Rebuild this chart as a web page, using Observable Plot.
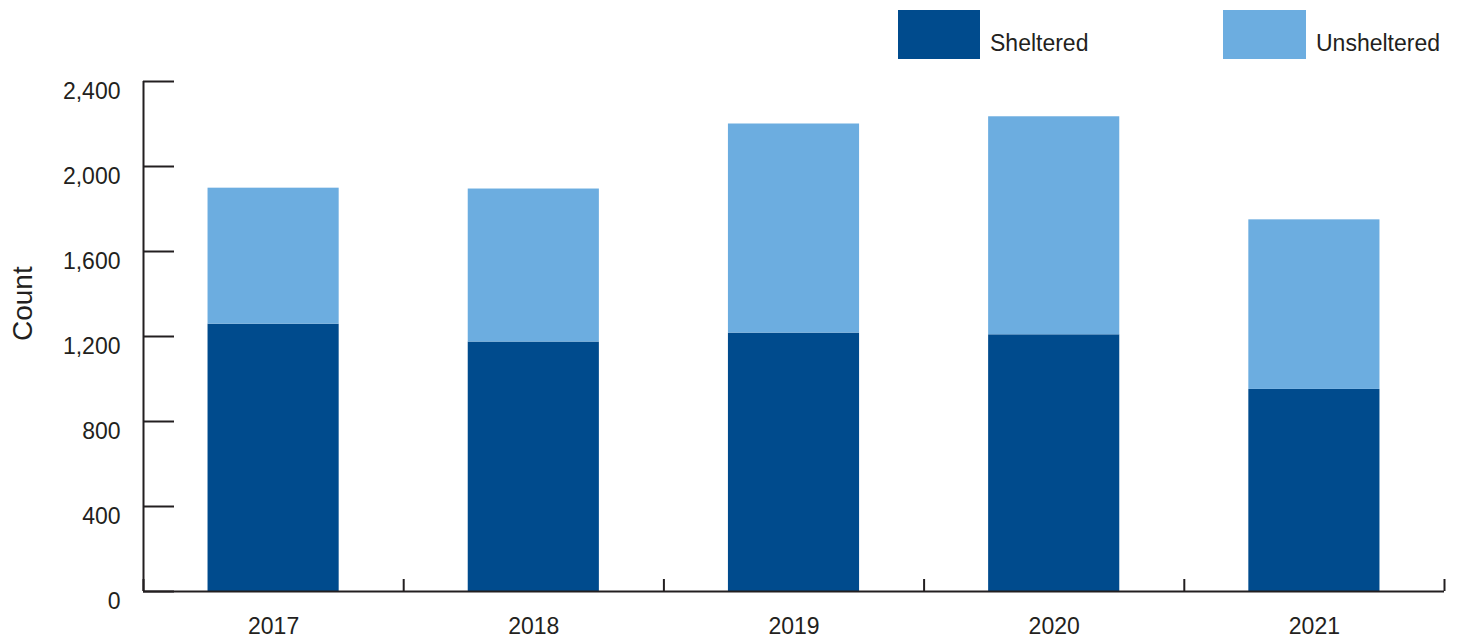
<!DOCTYPE html>
<html>
<head>
<meta charset="utf-8">
<script src="https://cdn.jsdelivr.net/npm/d3@7"></script>
<script src="https://cdn.jsdelivr.net/npm/@observablehq/plot@0.6"></script>
<style>
  body { margin: 0; background: #fff; font-family: "Liberation Sans", Arial, sans-serif; color: #231f20; }
  #legend { position: relative; width: 1460px; height: 70px; }
  .sw { position: absolute; top: 10px; height: 49px; }
  .lt { position: absolute; top: 32px; font-size: 23px; line-height: 23px; white-space: nowrap; }
  #chart svg { display: block; }
</style>
</head>
<body>
<div id="legend"></div>
<div id="chart"></div>
<script>
// ---- data ----
const years = [2017, 2018, 2019, 2020, 2021];
const sheltered = [1258, 1174, 1216, 1208, 951];
const unsheltered = [640, 720, 984, 1026, 798];
const yTicks = [0, 400, 800, 1200, 1600, 2000, 2400];
const seriesNames = ["Sheltered", "Unsheltered"];
const seriesColors = ["#004b8d", "#6cade0"];
const yLabel = "Count";

// ---- legend (HTML, above the SVG) ----
const legendPos = [{sw: 898, w: 82, tx: 990}, {sw: 1223, w: 83, tx: 1316}];
const legend = document.getElementById("legend");
seriesNames.forEach((name, i) => {
  const s = document.createElement("div");
  s.className = "sw";
  s.style.left = legendPos[i].sw + "px";
  s.style.width = legendPos[i].w + "px";
  s.style.background = seriesColors[i];
  legend.appendChild(s);
  const t = document.createElement("div");
  t.className = "lt";
  t.style.left = legendPos[i].tx + "px";
  t.textContent = name;
  legend.appendChild(t);
});

// ---- table built from the arrays ----
const rows = years.flatMap((yr, i) => [
  {year: yr, series: seriesNames[0], lo: 0, hi: sheltered[i]},
  {year: yr, series: seriesNames[1], lo: sheltered[i], hi: sheltered[i] + unsheltered[i]}
]);
const boundaries = [...years.map(y => y - 0.5), years[years.length - 1] + 0.5];
const half = 0.252; // half bar width in category units
const ink = "#231f20";
const fmt = d3.format(",.0f");

const chart = Plot.plot({
  width: 1460,
  height: 570,
  marginLeft: 143,
  marginRight: 16,
  marginTop: 11,
  marginBottom: 49,
  x: {type: "linear", domain: [boundaries[0], boundaries[boundaries.length - 1]]},
  y: {domain: [0, 2400]},
  color: {domain: seriesNames, range: seriesColors},
  style: {fontFamily: "'Liberation Sans', Arial, sans-serif", fontSize: "23px", color: ink, background: "white"},
  marks: [
    Plot.rectY(rows, {x1: d => d.year - half, x2: d => d.year + half, y1: "lo", y2: "hi", fill: "series"}),
    Plot.ruleY([0], {stroke: ink, strokeWidth: 2}),
    Plot.ruleX([boundaries[0]], {stroke: ink, strokeWidth: 2}),
    Plot.axisY({ticks: yTicks, tickSize: -31, fill: "none", stroke: ink, strokeWidth: 2, label: null}),
    Plot.axisY({ticks: yTicks, tickSize: 0, tickPadding: 23, dy: 10, tickFormat: fmt, fill: ink, fontSize: 23, label: null}),
    Plot.axisX({ticks: boundaries, tickSize: -12, fill: "none", stroke: ink, strokeWidth: 2, label: null}),
    Plot.axisX({ticks: years, tickSize: 0, tickPadding: 26, tickFormat: d => String(d), fill: ink, fontSize: 23, label: null}),
    Plot.text([yLabel], {frameAnchor: "left", rotate: -90, dx: -120, dy: 4.5, fontSize: 28, fill: ink})
  ]
});
document.getElementById("chart").appendChild(chart);
</script>
</body>
</html>
